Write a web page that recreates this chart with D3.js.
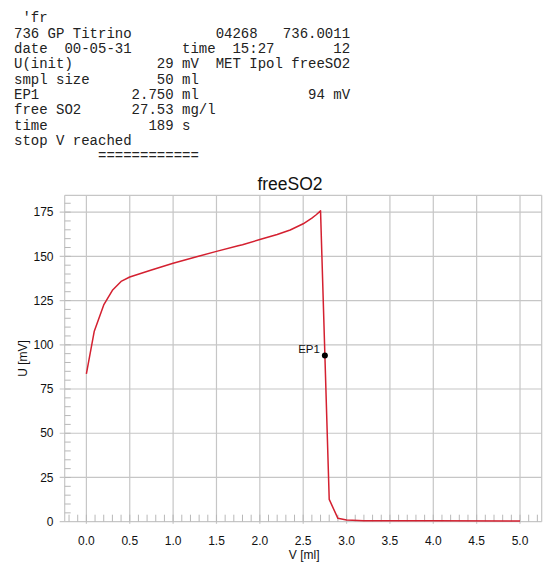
<!DOCTYPE html>
<html>

<head>
    <meta charset="utf-8">
    <title>freeSO2 titration</title>
    <script src="https://cdnjs.cloudflare.com/ajax/libs/d3/7.8.5/d3.min.js"></script>
    <style>
        body {
            margin: 0;
            background: #fff;
        }

        .report text {
            font: 14px "Courier New", "Liberation Mono", monospace;
            fill: #222;
            white-space: pre;
        }

        .axis text {
            font: 12px "Liberation Sans", Arial, sans-serif;
            fill: #111;
        }

        .grid line {
            stroke: #c6c6c6;
            stroke-width: 1.2;
        }

        .minor line {
            stroke: #b8b8b8;
            stroke-width: 1;
        }
    </style>
</head>

<body>
    <svg id="chart" width="550" height="565"></svg>

    <script>
        // printout header of the titrator
        var reportLines = [
            " 'fr",
            "736 GP Titrino          04268   736.0011",
            "date  00-05-31      time  15:27       12",
            "U(init)          29 mV  MET Ipol freeSO2",
            "smpl size        50 ml",
            "EP1           2.750 ml             94 mV",
            "free SO2      27.53 mg/l",
            "time            189 s",
            "stop V reached",
            "          ============"
        ];

        // titration curve
        var volume = [0.0, 0.09, 0.2, 0.3, 0.4, 0.5, 0.75, 1.0, 1.25, 1.5, 1.75, 1.8, 2.0, 2.2, 2.35, 2.5, 2.6, 2.65, 2.7, 2.8, 2.9, 3.0, 3.2, 4.0, 5.0];
        var potential = [83.5, 107.5, 122.5, 130.8, 135.8, 138.3, 142.3, 146.1, 149.5, 152.8, 156.0, 156.6, 159.5, 162.3, 164.9, 168.4, 171.6, 173.5, 175.7, 12.6, 1.9, 0.9, 0.6, 0.5, 0.4];

        var endPoint = { name: "EP1", volume: 2.75, potential: 94 };

        var xTicks = [0, 0.5, 1, 1.5, 2, 2.5, 3, 3.5, 4, 4.5, 5];
        var yTicks = [0, 25, 50, 75, 100, 125, 150, 175];

        var chartTitle = "freeSO2";
        var xTitle = "V [ml]";
        var yTitle = "U [mV]";

        var svg = d3.select("#chart");

        // plot frame (window.top is taken, so spell them out)
        var plotLeft = 64.7,
            plotRight = 541.7,
            plotTop = 195.3,
            plotBottom = 521.7;

        var x = d3.scaleLinear().domain([-0.25, 5.25]).range([plotLeft, plotRight]);
        var y = d3.scaleLinear().domain([0, 184.5]).range([plotBottom, plotTop]);

        // report text
        svg.append("g")
            .attr("class", "report")
            .selectAll("text")
            .data(reportLines)
            .enter().append("text")
            .attr("x", 14)
            .attr("y", function(d, i) {
                return 22.3 + i * 15.33;
            })
            .text(function(d) {
                return d;
            });

        // grid
        var grid = svg.append("g").attr("class", "grid");

        grid.selectAll(".gx")
            .data(xTicks)
            .enter().append("line")
            .attr("x1", function(d) { return x(d); })
            .attr("x2", function(d) { return x(d); })
            .attr("y1", plotTop)
            .attr("y2", plotBottom + 2);

        grid.selectAll(".gy")
            .data(yTicks.slice(1))
            .enter().append("line")
            .attr("x1", plotLeft - 5)
            .attr("x2", plotRight)
            .attr("y1", function(d) { return y(d); })
            .attr("y2", function(d) { return y(d); });

        // frame: left, top, right, and the zero line
        grid.append("line").attr("x1", plotLeft).attr("x2", plotLeft).attr("y1", plotTop).attr("y2", plotBottom);
        grid.append("line").attr("x1", plotLeft).attr("x2", plotRight).attr("y1", plotTop).attr("y2", plotTop);
        grid.append("line").attr("x1", plotRight).attr("x2", plotRight).attr("y1", plotTop).attr("y2", plotBottom);
        grid.append("line").attr("x1", plotLeft - 5).attr("x2", plotRight).attr("y1", y(0)).attr("y2", y(0));

        // minor ticks
        var minor = svg.append("g").attr("class", "minor");

        minor.selectAll(".mx")
            .data(d3.range(-2, 53).map(function(i) { return i / 10; }))
            .enter().append("line")
            .attr("x1", function(d) { return x(d); })
            .attr("x2", function(d) { return x(d); })
            .attr("y1", plotBottom)
            .attr("y2", plotBottom - 7);

        minor.selectAll(".my")
            .data(d3.range(1, 37).map(function(i) { return i * 5; }))
            .enter().append("line")
            .attr("x1", plotLeft)
            .attr("x2", plotLeft + 6)
            .attr("y1", function(d) { return y(d); })
            .attr("y2", function(d) { return y(d); });

        // tick labels
        var axis = svg.append("g").attr("class", "axis");

        axis.selectAll(".lx")
            .data(xTicks)
            .enter().append("text")
            .attr("x", function(d) { return x(d); })
            .attr("y", 545)
            .attr("text-anchor", "middle")
            .text(d3.format(".1f"));

        axis.selectAll(".ly")
            .data(yTicks)
            .enter().append("text")
            .attr("x", 53.5)
            .attr("y", function(d) { return y(d); })
            .attr("dy", "0.35em")
            .attr("text-anchor", "end")
            .text(function(d) { return d; });

        axis.append("text")
            .attr("x", (plotLeft + plotRight) / 2 + 1)
            .attr("y", 558.5)
            .attr("text-anchor", "middle")
            .text(xTitle);

        axis.append("text")
            .attr("transform", "translate(27," + (plotTop + plotBottom) / 2 + ") rotate(-90)")
            .attr("text-anchor", "middle")
            .text(yTitle);

        svg.append("text")
            .attr("x", 290)
            .attr("y", 190)
            .attr("text-anchor", "middle")
            .style("font", "17.5px 'Liberation Sans', Arial, sans-serif")
            .style("fill", "#111")
            .text(chartTitle);

        // curve
        var line = d3.line()
            .x(function(d) { return x(d[0]); })
            .y(function(d) { return y(d[1]); });

        svg.append("path")
            .datum(d3.zip(volume, potential))
            .attr("d", line)
            .attr("fill", "none")
            .attr("stroke", "#d42030")
            .attr("stroke-width", 1.5)
            .attr("stroke-linejoin", "round");

        // end point marker
        svg.append("circle")
            .attr("cx", x(endPoint.volume))
            .attr("cy", y(endPoint.potential))
            .attr("r", 3)
            .attr("fill", "#000");

        svg.append("text")
            .attr("x", x(endPoint.volume) - 5)
            .attr("y", y(endPoint.potential) - 2.5)
            .attr("text-anchor", "end")
            .style("font", "11.5px 'Liberation Sans', Arial, sans-serif")
            .style("fill", "#111")
            .text(endPoint.name);
    </script>
</body>

</html>
